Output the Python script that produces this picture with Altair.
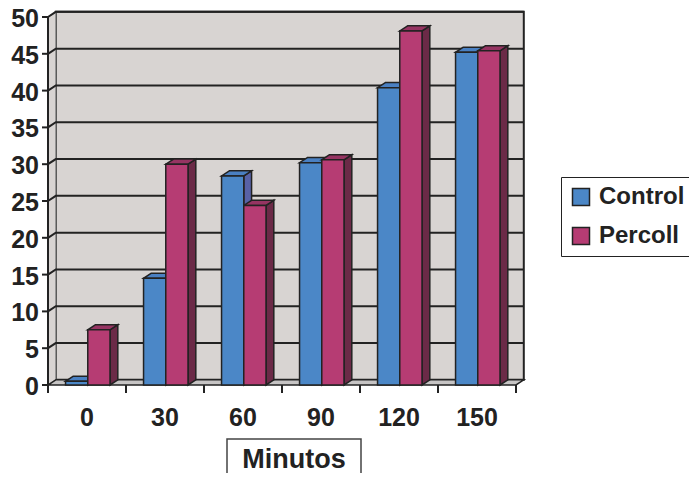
import altair as alt
import pandas as pd

# ---- data ----
minutes = ["0", "30", "60", "90", "120", "150"]
control = [0.5, 14.5, 28.4, 30.2, 40.4, 45.2]
percoll = [7.5, 30.0, 24.4, 30.6, 48.1, 45.4]
series = ["Control", "Percoll"]
y_ticks = list(range(0, 51, 5))
x_title = "Minutos"

# ---- geometry / style ----
W, H = 468, 368
YMAX = 50
N = len(minutes)
DX = 0.1   # 3-D depth, in category units
DY = 0.7   # 3-D depth, in value units
B_LEFT, B_MID, B_RIGHT = 0.225, 0.51, 0.795

front_colors = ["#4b87c7", "#b63c73"]
side_colors = ["#5862a6", "#6b2a47"]
top_colors = ["#4a80c2", "#963462"]
WALL = "#d8d4d2"
FLOOR = "#c6c4c4"
INK = "#222222"
FONT = "Liberation Sans"

fronts, sides, tops = [], [], []
for i, m in enumerate(minutes):
    for s, (name, vals) in enumerate(zip(series, [control, percoll])):
        v = vals[i]
        xl = i + (B_LEFT if s == 0 else B_MID)
        xr = i + (B_MID if s == 0 else B_RIGHT)
        bid = f"{m}-{name}"
        fronts.append(dict(series=name, minute=m, xl=xl, xr=xr, v=v, base=0))
        sides.append(dict(id=bid, series=name, x=xr, top=v, bot=0))
        sides.append(dict(id=bid, series=name, x=xr + DX, top=v + DY, bot=DY))
        tops.append(dict(id=bid, series=name, y=v, xl=xl, xr=xr))
        tops.append(dict(id=bid, series=name, y=v + DY, xl=xl + DX, xr=xr + DX))

fronts = pd.DataFrame(fronts)
sides = pd.DataFrame(sides)
tops = pd.DataFrame(tops)

grid = []
for v in y_ticks[1:]:
    grid += [dict(g=v, x=0, y=v), dict(g=v, x=DX, y=v + DY), dict(g=v, x=N + DX, y=v + DY)]
grid = pd.DataFrame(grid)

xs = alt.Scale(domain=[0, N], nice=False, zero=False)
ys = alt.Scale(domain=[0, YMAX], nice=False, zero=True)


def X(f):
    return alt.X(f, scale=xs, axis=None)


def Y(f):
    return alt.Y(f, scale=ys, axis=None)


# back wall
wall = alt.Chart(pd.DataFrame([dict(x=DX, x2=N + DX, y=DY, y2=YMAX + DY)])).mark_rect(
    fill=WALL, stroke=INK, strokeWidth=2
).encode(x=X("x:Q"), x2="x2:Q", y=Y("y:Q"), y2="y2:Q")

# left side wall
left_wall = alt.Chart(pd.DataFrame([dict(x=0, t=YMAX, b=0), dict(x=DX, t=YMAX + DY, b=DY)])).mark_area(
    fill=WALL, stroke="#8a8a8a", strokeWidth=1
).encode(x=X("x:Q"), y=Y("t:Q"), y2="b:Q")

# floor
floor = alt.Chart(pd.DataFrame([dict(y=0, a=0, b=N), dict(y=DY, a=DX, b=N + DX)])).mark_area(
    orient="horizontal", fill=FLOOR, stroke=INK, strokeWidth=1.5
).encode(y=Y("y:Q"), x=X("a:Q"), x2="b:Q")

grid_lines = alt.Chart(grid).mark_line(color=INK, strokeWidth=2).encode(
    x=X("x:Q"), y=Y("y:Q"), detail="g:N", order="x:Q"
)

layers = [wall, left_wall, floor, grid_lines]

for s, name in enumerate(series):
    layers.append(
        alt.Chart(sides).transform_filter(alt.datum.series == name).mark_area(
            fill=side_colors[s], stroke=INK, strokeWidth=1.5
        ).encode(x=X("x:Q"), y=Y("top:Q"), y2="bot:Q", detail="id:N")
    )
for s, name in enumerate(series):
    layers.append(
        alt.Chart(tops).transform_filter(alt.datum.series == name).mark_area(
            orient="horizontal", fill=top_colors[s], stroke=INK, strokeWidth=1.5
        ).encode(y=Y("y:Q"), x=X("xl:Q"), x2="xr:Q", detail="id:N")
    )

front = alt.Chart(fronts).mark_rect(stroke=INK, strokeWidth=1.5).encode(
    x=X("xl:Q"),
    x2="xr:Q",
    y=Y("v:Q"),
    y2="base:Q",
    color=alt.Color(
        "series:N",
        scale=alt.Scale(domain=series, range=front_colors),
        legend=alt.Legend(
            title=None, orient="none", legendX=513, legendY=160,
            symbolType="square", symbolSize=289, symbolStrokeColor=INK, symbolStrokeWidth=1.5,
            symbolOpacity=1, labelFont=FONT, labelFontSize=24, labelFontWeight="bold",
            labelColor=INK, labelOffset=6, padding=8, rowPadding=15, strokeColor=INK,
        ),
    ),
)
layers.append(front)

# x axis ticks at category boundaries
x_ticks = alt.Chart(pd.DataFrame({"x": list(range(N + 1))})).mark_rule(color=INK, strokeWidth=2).encode(
    x=X("x:Q"), y=alt.value(H), y2=alt.value(H + 8)
)
# y axis line and ticks
y_line = alt.Chart(pd.DataFrame([dict(a=0, b=YMAX)])).mark_rule(color=INK, strokeWidth=2).encode(
    x=alt.value(0), y=Y("a:Q"), y2="b:Q"
)
y_tick_marks = alt.Chart(pd.DataFrame({"v": y_ticks})).mark_rule(color=INK, strokeWidth=2).encode(
    x=alt.value(-6), x2=alt.value(0), y=Y("v:Q")
)
# tick labels
y_labels = alt.Chart(pd.DataFrame({"v": y_ticks})).mark_text(
    align="right", baseline="middle", dy=2, font=FONT, fontSize=25, fontWeight="bold", color=INK
).encode(x=alt.value(-9), y=Y("v:Q"), text="v:Q")
x_labels = alt.Chart(pd.DataFrame({"pos": [i + 0.5 for i in range(N)], "lab": minutes})).mark_text(
    align="center", baseline="middle", font=FONT, fontSize=25, fontWeight="bold", color=INK
).encode(x=X("pos:Q"), y=alt.value(H + 33), text="lab:N")
# axis title in its box
title_box = alt.Chart(pd.DataFrame({"t": [x_title]})).mark_rect(
    fill="white", fillOpacity=0, stroke="#444444", strokeWidth=1.5
).encode(x=alt.value(179), x2=alt.value(313), y=alt.value(422), y2=alt.value(480))
title_text = alt.Chart(pd.DataFrame({"t": [x_title]})).mark_text(
    align="center", baseline="alphabetic", font=FONT, fontSize=27, fontWeight="bold", color=INK
).encode(x=alt.value(246), y=alt.value(451), text="t:N")

layers += [x_ticks, y_line, y_tick_marks, y_labels, x_labels, title_box, title_text]

chart = alt.layer(*layers).properties(
    width=W, height=H,
    autosize="none",
    padding={"left": 40, "top": 9, "right": 173, "bottom": 88},
    background="white",
).configure_view(stroke=None)

chart.save("out.html", embed_options={"renderer": "svg", "actions": False})
